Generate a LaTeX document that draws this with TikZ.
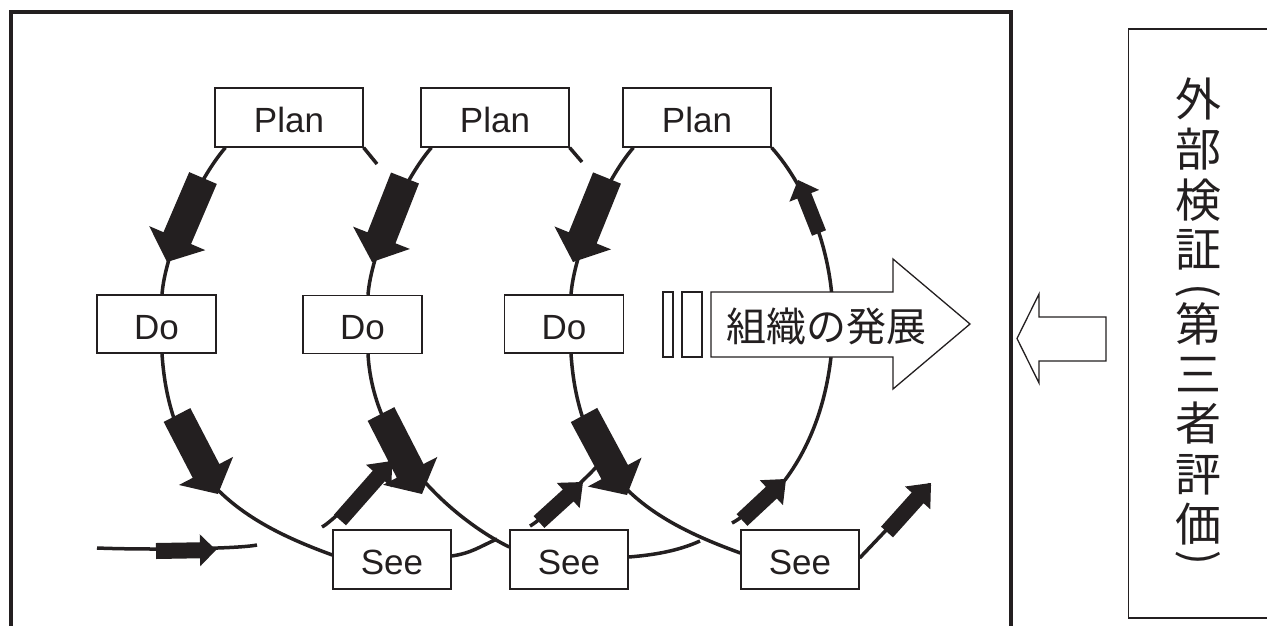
\documentclass[tikz,border=0pt]{standalone}
\usepackage{fontspec}
\usepackage{graphicx}
\setmainfont{Liberation Sans}
\newfontfamily\cjk{Noto Sans CJK JP}
\usetikzlibrary{calc}
\definecolor{ink}{RGB}{35,31,32}
\pgfdeclarelayer{bg}
\pgfsetlayers{bg,main}
% tail, tip, body half width, head half width, head length
\newcommand\blockarr[5]{%
  \coordinate (ba-h) at ($(#2)!#5!(#1)$);
  \fill[ink] ($(#1)!#3!90:(#2)$) -- ($(ba-h)!#3!90:(#2)$) -- ($(ba-h)!#4!90:(#2)$) -- (#2)
    -- ($(ba-h)!#4!-90:(#2)$) -- ($(ba-h)!#3!-90:(#2)$) -- ($(#1)!#3!-90:(#2)$) -- cycle;
}
\tikzset{
  stagebox/.style={draw=ink, line width=1.3pt, fill=white, inner sep=0pt, text=ink,
    minimum height=59pt, font=\fontsize{35}{40}\selectfont, text height=30pt, text depth=0pt},
  planbox/.style={stagebox, minimum width=148pt},
  dobox/.style={stagebox, minimum width=119pt, minimum height=58pt},
  seebox/.style={stagebox, minimum width=118pt},
  cyc/.style={draw=ink, line width=3.5pt},
  outl/.style={draw=ink, line width=1.3pt, fill=white},
  vchar/.style={font=\cjk\fontsize{46}{46}\selectfont, inner sep=0pt, text=ink},
  vparen/.style={font=\cjk\fontsize{44}{44}\selectfont, inner sep=0pt, text=ink},
}
\begin{document}
\begin{tikzpicture}[x=1pt,y=-1pt]
\useasboundingbox (0,0) rectangle (1267,625);
\clip (0,0) rectangle (1267,625);

% boxes
\node[planbox] (P1) at (289,117.5) {Plan};
\node[planbox] (P2) at (495,117.5) {Plan};
\node[planbox] (P3) at (697,117.5) {Plan};
\node[dobox] (D1) at (156.5,324) {Do};
\node[dobox] (D2) at (362.5,324.5) {Do};
\node[dobox] (D3) at (564,324) {Do};
\node[seebox] (S1) at (392,559.5) {See};
\node[seebox] (S2) at (569,559.5) {See};
\node[seebox] (S3) at (800,559.5) {See};

% free ends
\coordinate (in0) at (97,548);
\coordinate (in1) at (257,545);
\coordinate (c1) at (497,539);
\coordinate (c2) at (700,541);
\coordinate (r1a) at (322,527);
\coordinate (r1b) at (402,448);
\coordinate (r2a) at (530,526);
\coordinate (r2b) at (598,465);
\coordinate (r3a) at (732,523);
\coordinate (r3m) at (785,480);
\coordinate (r3n) at (833,320);
\coordinate (st1) at (377,164);
\coordinate (st2) at (582,162);
\coordinate (out3) at (930,484);

\begin{pgfonlayer}{bg}
% incoming
\draw[cyc] (in0) .. controls +(50,2) and +(-20,4) .. (in1);
% loop 1
\draw[cyc] ([xshift=11pt]P1.south west) .. controls +(-30,35) and +(3,-40) .. ([xshift=5.5pt]D1.north);
\draw[cyc] ([xshift=5.5pt]D1.south) .. controls +(8,127) and +(-85,-31) .. ([yshift=4.5pt]S1.west);
\draw[cyc] (P1.south east) -- (st1);
\draw[cyc] ([yshift=3.5pt]S1.east) .. controls +(20,-3) and +(-18,8) .. (c1);
\draw[cyc] (r1a) .. controls +(12,-6) and +(-10,14) .. (r1b);
% loop 2
\draw[cyc] ([xshift=11pt]P2.south west) .. controls +(-30,35) and +(3,-40) .. ([xshift=5.5pt]D2.north);
\draw[cyc] ([xshift=5.5pt]D2.south) .. controls +(6,106) and +(-40,-19) .. ([yshift=12.5pt]S2.west);
\draw[cyc] (P2.south east) -- (st2);
\draw[cyc] ([yshift=2.5pt]S2.east) .. controls +(25,-2) and +(-22,10) .. (c2);
\draw[cyc] (r2a) .. controls +(10,-5) and +(-8,10) .. (r2b);
% loop 3
\draw[cyc] ([xshift=11pt]P3.south west) .. controls +(-30,35) and +(3,-40) .. ([xshift=7pt]D3.north);
\draw[cyc] ([xshift=7pt]D3.south) .. controls +(8,127) and +(-85,-31) .. ([yshift=6.5pt]S3.west);
\draw[cyc] (r3a) .. controls +(12,-6) and +(-12,12) .. (r3m)
  .. controls +(30,-40) and +(0,65) .. (r3n)
  .. controls +(0,-70) and +(34,38) .. (P3.south east);
\draw[cyc] ([yshift=1.5pt]S3.east) -- (out3);
\end{pgfonlayer}

% big block arrows
\blockarr{203,178}{167,262}{15pt}{30.5pt}{26pt}
\blockarr{177,415}{218,494}{15pt}{30.5pt}{26pt}
\blockarr{405,178}{372,262}{15pt}{30.5pt}{26pt}
\blockarr{381,414}{422,494}{15pt}{30.5pt}{26pt}
\blockarr{607,178}{573,262}{15pt}{30.5pt}{26pt}
\blockarr{584,415}{627,495}{15pt}{30.5pt}{26pt}
% small arrows
\blockarr{156,551}{216,550}{8pt}{16pt}{16pt}
\blockarr{340,520}{392,461}{8pt}{17pt}{20pt}
\blockarr{539,522}{583,482}{8pt}{17pt}{20pt}
\blockarr{742,520}{786,479}{8pt}{17pt}{20pt}
\blockarr{819,233}{798,180}{7.5pt}{16pt}{17pt}
\blockarr{887,532}{931,483}{8pt}{17pt}{20pt}

% development arrow
\draw[outl] (663,292) rectangle (673,357);
\draw[outl] (682,292) rectangle (702,357);
\draw[outl] (711,292) -- (893,292) -- (893,259) -- (970,324) -- (893,389) -- (893,357) -- (711,357) -- cycle;
\node[font=\cjk\fontsize{40}{40}\selectfont, inner sep=0pt, text=ink] (grow) at (826,326) {組織の発展};

% frame
\draw[ink, line width=4pt] (10.5,640) -- (10.5,11.5) -- (1011,11.5) -- (1011,640);

% external box
\draw[ink, line width=1.3pt] (1290,29) -- (1128.5,29) -- (1128.5,618) -- (1290,618);
\draw[outl] (1017,338.5) -- (1039,294) -- (1039,317) -- (1106,317) -- (1106,361) -- (1039,361) -- (1039,383) -- cycle;
\foreach \c/\yy [count=\i] in {外/99, 部/149, 検/200, 証/250, 第/324, 三/374.5, 者/423, 評/475, 価/524}
  \node[vchar] (v\i) at (1198,\yy) {\c};
\node[vparen] (vl) at (1198,291) {\rotatebox{-90}{(}};
\node[vparen] (vr) at (1198,558) {\rotatebox{-90}{)}};
\end{tikzpicture}
\end{document}
